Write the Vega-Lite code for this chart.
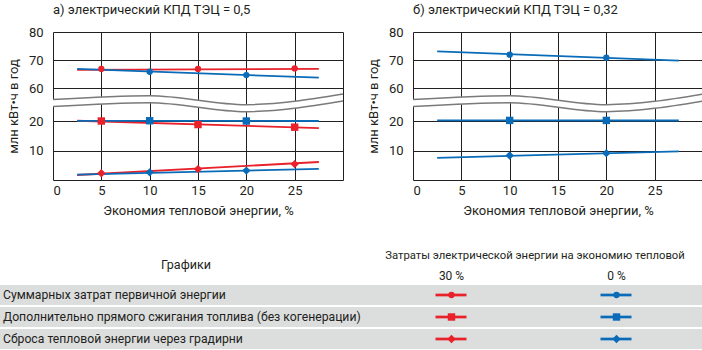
{
  "$schema": "https://vega.github.io/schema/vega-lite/v6.json",
  "background": "white",
  "padding": {"left": 0, "top": 4, "right": 0, "bottom": 0},
  "config": {
    "font": "Roboto",
    "view": {"stroke": null},
    "title": {"fontSize": 13, "fontWeight": "normal", "anchor": "start", "frame": "group", "color": "#231f20", "font": "Roboto", "offset": 9},
    "axis": {"grid": true, "gridColor": "#231f20", "gridWidth": 1, "gridOpacity": 1, "domain": false, "ticks": false, "labelOverlap": false, "labelFontSize": 13, "labelColor": "#231f20", "titleFontSize": 13, "titleFontWeight": "normal", "titleColor": "#231f20", "labelFont": "Roboto", "titleFont": "Roboto"},
    "axisX": {"labelPadding": 4, "titlePadding": 7},
    "axisY": {"labelPadding": 10, "titlePadding": 8}
  },
  "datasets": {
    "points": [
      {"panel": "а", "series": "Суммарных затрат первичной энергии", "cost": "30 %", "x": 5, "y": 66.8},
      {"panel": "а", "series": "Суммарных затрат первичной энергии", "cost": "30 %", "x": 15, "y": 66.8},
      {"panel": "а", "series": "Суммарных затрат первичной энергии", "cost": "30 %", "x": 25, "y": 67.0},
      {"panel": "а", "series": "Суммарных затрат первичной энергии", "cost": "0 %", "x": 10, "y": 65.8},
      {"panel": "а", "series": "Суммарных затрат первичной энергии", "cost": "0 %", "x": 20, "y": 64.6},
      {"panel": "а", "series": "Дополнительно прямого сжигания топлива (без когенерации)", "cost": "30 %", "x": 5, "y": 20.0},
      {"panel": "а", "series": "Дополнительно прямого сжигания топлива (без когенерации)", "cost": "30 %", "x": 15, "y": 18.8},
      {"panel": "а", "series": "Дополнительно прямого сжигания топлива (без когенерации)", "cost": "30 %", "x": 25, "y": 17.9},
      {"panel": "а", "series": "Дополнительно прямого сжигания топлива (без когенерации)", "cost": "0 %", "x": 10, "y": 20.3},
      {"panel": "а", "series": "Дополнительно прямого сжигания топлива (без когенерации)", "cost": "0 %", "x": 20, "y": 20.0},
      {"panel": "а", "series": "Сброса тепловой энергии через градирни", "cost": "30 %", "x": 5, "y": 2.3},
      {"panel": "а", "series": "Сброса тепловой энергии через градирни", "cost": "30 %", "x": 15, "y": 3.7},
      {"panel": "а", "series": "Сброса тепловой энергии через градирни", "cost": "30 %", "x": 25, "y": 5.4},
      {"panel": "а", "series": "Сброса тепловой энергии через градирни", "cost": "0 %", "x": 10, "y": 2.6},
      {"panel": "а", "series": "Сброса тепловой энергии через градирни", "cost": "0 %", "x": 20, "y": 3.2},
      {"panel": "б", "series": "Суммарных затрат первичной энергии", "cost": "0 %", "x": 10, "y": 71.9},
      {"panel": "б", "series": "Суммарных затрат первичной энергии", "cost": "0 %", "x": 20, "y": 70.8},
      {"panel": "б", "series": "Дополнительно прямого сжигания топлива (без когенерации)", "cost": "0 %", "x": 10, "y": 20.7},
      {"panel": "б", "series": "Дополнительно прямого сжигания топлива (без когенерации)", "cost": "0 %", "x": 20, "y": 20.7},
      {"panel": "б", "series": "Сброса тепловой энергии через градирни", "cost": "0 %", "x": 10, "y": 8.3},
      {"panel": "б", "series": "Сброса тепловой энергии через градирни", "cost": "0 %", "x": 20, "y": 9.1}
    ],
    "trends": [
      {"panel": "а", "series": "Суммарных затрат первичной энергии", "cost": "30 %", "x": 2.5, "y": 66.5},
      {"panel": "а", "series": "Суммарных затрат первичной энергии", "cost": "30 %", "x": 27.5, "y": 66.8},
      {"panel": "а", "series": "Суммарных затрат первичной энергии", "cost": "0 %", "x": 2.5, "y": 66.8},
      {"panel": "а", "series": "Суммарных затрат первичной энергии", "cost": "0 %", "x": 27.5, "y": 63.7},
      {"panel": "а", "series": "Дополнительно прямого сжигания топлива (без когенерации)", "cost": "30 %", "x": 2.5, "y": 20.3},
      {"panel": "а", "series": "Дополнительно прямого сжигания топлива (без когенерации)", "cost": "30 %", "x": 27.5, "y": 17.6},
      {"panel": "а", "series": "Дополнительно прямого сжигания топлива (без когенерации)", "cost": "0 %", "x": 2.5, "y": 20.2},
      {"panel": "а", "series": "Дополнительно прямого сжигания топлива (без когенерации)", "cost": "0 %", "x": 27.5, "y": 20.0},
      {"panel": "а", "series": "Сброса тепловой энергии через градирни", "cost": "30 %", "x": 2.5, "y": 1.7},
      {"panel": "а", "series": "Сброса тепловой энергии через градирни", "cost": "30 %", "x": 27.5, "y": 6.1},
      {"panel": "а", "series": "Сброса тепловой энергии через градирни", "cost": "0 %", "x": 2.5, "y": 1.8},
      {"panel": "а", "series": "Сброса тепловой энергии через градирни", "cost": "0 %", "x": 27.5, "y": 3.8},
      {"panel": "б", "series": "Суммарных затрат первичной энергии", "cost": "0 %", "x": 2.5, "y": 73.1},
      {"panel": "б", "series": "Суммарных затрат первичной энергии", "cost": "0 %", "x": 27.5, "y": 69.8},
      {"panel": "б", "series": "Дополнительно прямого сжигания топлива (без когенерации)", "cost": "0 %", "x": 2.5, "y": 20.7},
      {"panel": "б", "series": "Дополнительно прямого сжигания топлива (без когенерации)", "cost": "0 %", "x": 27.5, "y": 20.6},
      {"panel": "б", "series": "Сброса тепловой энергии через градирни", "cost": "0 %", "x": 2.5, "y": 7.5},
      {"panel": "б", "series": "Сброса тепловой энергии через градирни", "cost": "0 %", "x": 27.5, "y": 9.7}
    ],
    "wave": [
      {"x": 0, "upper": 46.1, "lower": 37.6},
      {"x": 10, "upper": 50.7, "lower": 42.2},
      {"x": 20, "upper": 39.8, "lower": 31.3},
      {"x": 30, "upper": 52.7, "lower": 44.2}
    ],
    "rows": [
      {"series": "Суммарных затрат первичной энергии"},
      {"series": "Дополнительно прямого сжигания топлива (без когенерации)"},
      {"series": "Сброса тепловой энергии через градирни"}
    ],
    "legend": [
      {"series": "Суммарных затрат первичной энергии", "cost": "30 %"},
      {"series": "Дополнительно прямого сжигания топлива (без когенерации)", "cost": "30 %"},
      {"series": "Сброса тепловой энергии через градирни", "cost": "30 %"},
      {"series": "Суммарных затрат первичной энергии", "cost": "0 %"},
      {"series": "Дополнительно прямого сжигания топлива (без когенерации)", "cost": "0 %"},
      {"series": "Сброса тепловой энергии через градирни", "cost": "0 %"}
    ],
    "header": [
      {"text": "Графики", "level": "row"},
      {"text": "Затраты электрической энергии на экономию тепловой", "level": "group"}
    ]
  },
  "spacing": 29,
  "vconcat": [
    {
      "spacing": 21,
      "hconcat": [
        {
          "width": 290, "height": 148,
          "title": {"text": "а) электрический КПД ТЭЦ = 0,5"},
          "layer": [
            {
              "data": {"name": "wave"},
              "mark": {"type": "area", "color": "white", "interpolate": "monotone"},
              "encoding": {
                "x": {"field": "x", "type": "quantitative", "scale": {"domain": [0, 30], "nice": false, "zero": false}, "axis": {"values": [0, 5, 10, 15, 20, 25, 30], "tickCount": 20, "labelExpr": "datum.value == 30 ? '' : datum.label", "title": "Экономия тепловой энергии, %"}},
                "y": {"field": "lower", "type": "quantitative", "scale": {"domain": [0, 20, 60, 80], "range": [148, 89, 56, 0], "nice": false, "zero": false}, "axis": {"values": [0, 10, 20, 60, 70, 80], "tickCount": 20, "labelExpr": "datum.value == 0 ? '' : datum.label", "title": "млн кВт•ч в год"}},
                "y2": {"field": "upper"}
              }
            },
            {
              "data": {"name": "wave"},
              "mark": {"type": "line", "color": "#7a7a7a", "strokeWidth": 1.5, "interpolate": "monotone"},
              "encoding": {
                "x": {"field": "x", "type": "quantitative", "title": "Экономия тепловой энергии, %"},
                "y": {"field": "upper", "type": "quantitative", "title": "млн кВт•ч в год"}
              }
            },
            {
              "data": {"name": "wave"},
              "mark": {"type": "line", "color": "#7a7a7a", "strokeWidth": 1.5, "interpolate": "monotone"},
              "encoding": {
                "x": {"field": "x", "type": "quantitative", "title": "Экономия тепловой энергии, %"},
                "y": {"field": "lower", "type": "quantitative", "title": "млн кВт•ч в год"}
              }
            },
            {
              "data": {"name": "trends"},
              "transform": [{"filter": "datum.panel == 'а'"}],
              "mark": {"type": "line", "strokeWidth": 1.8},
              "encoding": {
                "x": {"field": "x", "type": "quantitative", "title": "Экономия тепловой энергии, %"},
                "y": {"field": "y", "type": "quantitative", "title": "млн кВт•ч в год"},
                "color": {"field": "cost", "type": "nominal", "scale": {"domain": ["30 %", "0 %"], "range": ["#e8212b", "#0a6cb8"]}, "legend": null},
                "detail": {"field": "series"}
              }
            },
            {
              "data": {"name": "points"},
              "transform": [{"filter": "datum.panel == 'а'"}],
              "mark": {"type": "point", "filled": true, "opacity": 1},
              "encoding": {
                "x": {"field": "x", "type": "quantitative", "title": "Экономия тепловой энергии, %"},
                "y": {"field": "y", "type": "quantitative", "title": "млн кВт•ч в год"},
                "color": {"field": "cost", "type": "nominal", "scale": {"domain": ["30 %", "0 %"], "range": ["#e8212b", "#0a6cb8"]}, "legend": null},
                "shape": {"field": "series", "type": "nominal", "scale": {"domain": ["Суммарных затрат первичной энергии", "Дополнительно прямого сжигания топлива (без когенерации)", "Сброса тепловой энергии через градирни"], "range": ["circle", "square", "diamond"]}, "legend": null},
                "size": {"field": "series", "type": "nominal", "scale": {"domain": ["Суммарных затрат первичной энергии", "Дополнительно прямого сжигания топлива (без когенерации)", "Сброса тепловой энергии через градирни"], "range": [40, 70, 80]}, "legend": null}
              }
            }
          ]
        },
        {
          "width": 290, "height": 148,
          "title": {"text": "б) электрический КПД ТЭЦ = 0,32"},
          "layer": [
            {
              "data": {"name": "wave"},
              "mark": {"type": "area", "color": "white", "interpolate": "monotone"},
              "encoding": {
                "x": {"field": "x", "type": "quantitative", "scale": {"domain": [0, 30], "nice": false, "zero": false}, "axis": {"values": [0, 5, 10, 15, 20, 25, 30], "tickCount": 20, "labelExpr": "datum.value == 30 ? '' : datum.label", "title": "Экономия тепловой энергии, %"}},
                "y": {"field": "lower", "type": "quantitative", "scale": {"domain": [0, 20, 60, 80], "range": [148, 89, 56, 0], "nice": false, "zero": false}, "axis": {"values": [0, 10, 20, 60, 70, 80], "tickCount": 20, "labelExpr": "datum.value == 0 ? '' : datum.label", "title": "млн кВт•ч в год"}},
                "y2": {"field": "upper"}
              }
            },
            {
              "data": {"name": "wave"},
              "mark": {"type": "line", "color": "#7a7a7a", "strokeWidth": 1.5, "interpolate": "monotone"},
              "encoding": {
                "x": {"field": "x", "type": "quantitative", "title": "Экономия тепловой энергии, %"},
                "y": {"field": "upper", "type": "quantitative", "title": "млн кВт•ч в год"}
              }
            },
            {
              "data": {"name": "wave"},
              "mark": {"type": "line", "color": "#7a7a7a", "strokeWidth": 1.5, "interpolate": "monotone"},
              "encoding": {
                "x": {"field": "x", "type": "quantitative", "title": "Экономия тепловой энергии, %"},
                "y": {"field": "lower", "type": "quantitative", "title": "млн кВт•ч в год"}
              }
            },
            {
              "data": {"name": "trends"},
              "transform": [{"filter": "datum.panel == 'б'"}],
              "mark": {"type": "line", "strokeWidth": 1.8},
              "encoding": {
                "x": {"field": "x", "type": "quantitative", "title": "Экономия тепловой энергии, %"},
                "y": {"field": "y", "type": "quantitative", "title": "млн кВт•ч в год"},
                "color": {"field": "cost", "type": "nominal", "scale": {"domain": ["30 %", "0 %"], "range": ["#e8212b", "#0a6cb8"]}, "legend": null},
                "detail": {"field": "series"}
              }
            },
            {
              "data": {"name": "points"},
              "transform": [{"filter": "datum.panel == 'б'"}],
              "mark": {"type": "point", "filled": true, "opacity": 1},
              "encoding": {
                "x": {"field": "x", "type": "quantitative", "title": "Экономия тепловой энергии, %"},
                "y": {"field": "y", "type": "quantitative", "title": "млн кВт•ч в год"},
                "color": {"field": "cost", "type": "nominal", "scale": {"domain": ["30 %", "0 %"], "range": ["#e8212b", "#0a6cb8"]}, "legend": null},
                "shape": {"field": "series", "type": "nominal", "scale": {"domain": ["Суммарных затрат первичной энергии", "Дополнительно прямого сжигания топлива (без когенерации)", "Сброса тепловой энергии через градирни"], "range": ["circle", "square", "diamond"]}, "legend": null},
                "size": {"field": "series", "type": "nominal", "scale": {"domain": ["Суммарных затрат первичной энергии", "Дополнительно прямого сжигания топлива (без когенерации)", "Сброса тепловой энергии через градирни"], "range": [40, 70, 80]}, "legend": null}
              }
            }
          ]
        }
      ]
    },
    {
      "spacing": 2,
      "vconcat": [
        {
          "width": 649, "height": 37,
          "layer": [
            {
              "mark": {"type": "rect", "color": "#dcdddd"},
              "encoding": {
                "x": {"datum": 0, "type": "quantitative", "scale": {"domain": [0, 1, 2, 3], "range": [-53, 319, 478, 649], "nice": false, "zero": false}, "axis": null},
                "x2": {"datum": 3},
                "y": {"datum": 0, "type": "quantitative", "scale": {"domain": [0, 1, 2], "range": [0, 21, 37], "nice": false, "zero": false}, "axis": null},
                "y2": {"datum": 2}
              }
            },
            {
              "mark": {"type": "rule", "color": "white", "strokeWidth": 2},
              "encoding": {
                "x": {"datum": 1, "type": "quantitative"}
              }
            },
            {
              "mark": {"type": "rule", "color": "white", "strokeWidth": 2},
              "encoding": {
                "x": {"datum": 2, "type": "quantitative"},
                "y": {"datum": 1, "type": "quantitative"},
                "y2": {"datum": 2}
              }
            },
            {
              "mark": {"type": "rule", "color": "#f5f5f5", "strokeWidth": 1.2},
              "encoding": {
                "x": {"datum": 1, "type": "quantitative"},
                "x2": {"datum": 3},
                "y": {"datum": 1, "type": "quantitative"}
              }
            },
            {
              "data": {"name": "header"},
              "transform": [{"filter": "datum.level == 'row'"}],
              "mark": {"type": "text", "fontSize": 12.5, "color": "#231f20", "align": "center", "baseline": "middle", "dy": -2},
              "encoding": {
                "x": {"datum": 0.5, "type": "quantitative"},
                "y": {"datum": 1, "type": "quantitative"},
                "text": {"field": "text"}
              }
            },
            {
              "data": {"name": "header"},
              "transform": [{"filter": "datum.level == 'group'"}],
              "mark": {"type": "text", "fontSize": 11.3, "color": "#231f20", "align": "center", "baseline": "middle", "dy": -1, "dx": 4},
              "encoding": {
                "x": {"datum": 2, "type": "quantitative"},
                "y": {"datum": 0.5, "type": "quantitative"},
                "text": {"field": "text"}
              }
            },
            {
              "data": {"name": "legend"},
              "transform": [{"filter": "datum.cost == '30 %'"}, {"aggregate": [], "groupby": ["cost"]}],
              "mark": {"type": "text", "fontSize": 12, "color": "#231f20", "align": "center", "baseline": "middle", "dy": 1},
              "encoding": {
                "x": {"datum": 1.5, "type": "quantitative"},
                "y": {"datum": 1.5, "type": "quantitative"},
                "text": {"field": "cost"}
              }
            },
            {
              "data": {"name": "legend"},
              "transform": [{"filter": "datum.cost == '0 %'"}, {"aggregate": [], "groupby": ["cost"]}],
              "mark": {"type": "text", "fontSize": 12, "color": "#231f20", "align": "center", "baseline": "middle", "dy": 1},
              "encoding": {
                "x": {"datum": 2.5, "type": "quantitative"},
                "y": {"datum": 1.5, "type": "quantitative"},
                "text": {"field": "cost"}
              }
            }
          ]
        },
        {
          "width": 649, "height": 64,
          "layer": [
            {
              "data": {"name": "rows"},
              "mark": {"type": "rect", "color": "#dcdddd"},
              "encoding": {
                "x": {"datum": 0, "type": "quantitative", "scale": {"domain": [0, 1, 2, 3], "range": [-53, 319, 478, 649], "nice": false, "zero": false}, "axis": null},
                "x2": {"datum": 3},
                "y": {"field": "series", "type": "nominal", "scale": {"domain": ["Суммарных затрат первичной энергии", "Дополнительно прямого сжигания топлива (без когенерации)", "Сброса тепловой энергии через градирни"], "paddingInner": 0.0909, "paddingOuter": 0}, "axis": null}
              }
            },
            {
              "mark": {"type": "rule", "color": "white", "strokeWidth": 2},
              "encoding": {"x": {"datum": 1, "type": "quantitative"}}
            },
            {
              "mark": {"type": "rule", "color": "white", "strokeWidth": 2},
              "encoding": {"x": {"datum": 2, "type": "quantitative"}}
            },
            {
              "data": {"name": "rows"},
              "mark": {"type": "text", "fontSize": 12.2, "color": "#231f20", "align": "left", "baseline": "middle", "dx": 3},
              "encoding": {
                "x": {"datum": 0, "type": "quantitative"},
                "y": {"field": "series", "type": "nominal"},
                "text": {"field": "series"}
              }
            },
            {
              "data": {"name": "legend"},
              "transform": [{"filter": "datum.cost == '30 %'"}],
              "mark": {"type": "rule", "strokeWidth": 2.7, "xOffset": -16, "x2Offset": 15},
              "encoding": {
                "x": {"datum": 1.5, "type": "quantitative"},
                "x2": {"datum": 1.5},
                "y": {"field": "series", "type": "nominal"},
                "color": {"field": "cost", "type": "nominal", "scale": {"domain": ["30 %", "0 %"], "range": ["#e8212b", "#0a6cb8"]}, "legend": null}
              }
            },
            {
              "data": {"name": "legend"},
              "transform": [{"filter": "datum.cost == '0 %'"}],
              "mark": {"type": "rule", "strokeWidth": 2.7, "xOffset": -16, "x2Offset": 15},
              "encoding": {
                "x": {"datum": 2.5, "type": "quantitative"},
                "x2": {"datum": 2.5},
                "y": {"field": "series", "type": "nominal"},
                "color": {"field": "cost", "type": "nominal", "legend": null}
              }
            },
            {
              "data": {"name": "legend"},
              "transform": [{"filter": "datum.cost == '30 %'"}],
              "mark": {"type": "point", "filled": true, "opacity": 1},
              "encoding": {
                "x": {"datum": 1.5, "type": "quantitative"},
                "y": {"field": "series", "type": "nominal"},
                "color": {"field": "cost", "type": "nominal", "legend": null},
                "shape": {"field": "series", "type": "nominal", "scale": {"domain": ["Суммарных затрат первичной энергии", "Дополнительно прямого сжигания топлива (без когенерации)", "Сброса тепловой энергии через градирни"], "range": ["circle", "square", "diamond"]}, "legend": null},
                "size": {"field": "series", "type": "nominal", "scale": {"domain": ["Суммарных затрат первичной энергии", "Дополнительно прямого сжигания топлива (без когенерации)", "Сброса тепловой энергии через градирни"], "range": [35, 75, 70]}, "legend": null}
              }
            },
            {
              "data": {"name": "legend"},
              "transform": [{"filter": "datum.cost == '0 %'"}],
              "mark": {"type": "point", "filled": true, "opacity": 1},
              "encoding": {
                "x": {"datum": 2.5, "type": "quantitative"},
                "y": {"field": "series", "type": "nominal"},
                "color": {"field": "cost", "type": "nominal", "legend": null},
                "shape": {"field": "series", "type": "nominal", "legend": null},
                "size": {"field": "series", "type": "nominal", "legend": null}
              }
            }
          ]
        }
      ]
    }
  ]
}
